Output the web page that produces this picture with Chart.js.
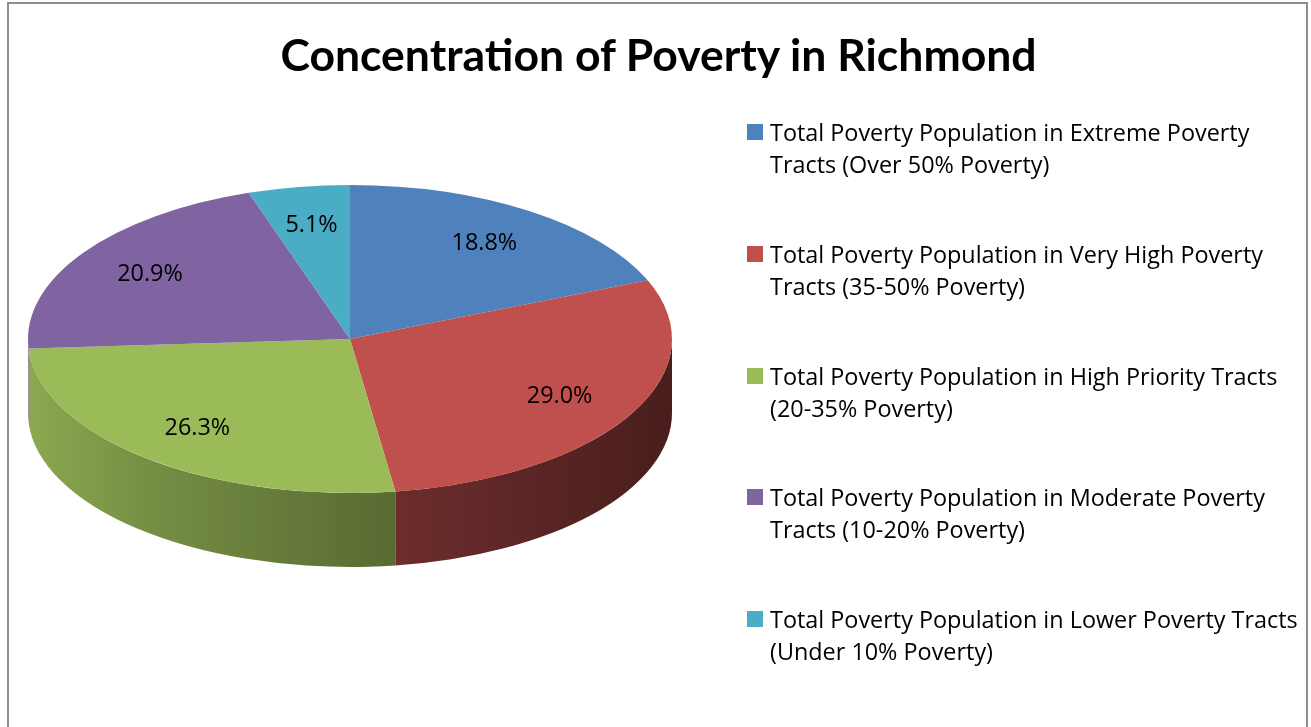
<!DOCTYPE html>
<html>
<head>
<meta charset="utf-8">
<title>Concentration of Poverty in Richmond</title>
<script src="https://cdn.jsdelivr.net/npm/chart.js@4.4.1/dist/chart.umd.min.js"></script>
<style>
    html, body { margin: 0; padding: 0; background: #fff; overflow: hidden; }
    #wrap { position: relative; width: 1311px; height: 727px; }
    #frame {
        position: absolute; left: 7px; top: 2px; width: 1297px; height: 740px;
        border: 2px solid #8e8e8e; box-sizing: content-box;
    }
    #pieChart { position: absolute; left: 0; top: 0; }
    #title {
        position: absolute; left: 0; top: 28px; width: 1317px; text-align: center;
        font: bold 44.5px Lato, sans-serif; line-height: 52px; color: #000;
    }
    #legend { position: absolute; left: 0; top: 0; margin: 0; padding: 0; list-style: none; }
    #legend li { position: absolute; left: 747px; }
    #legend .box { position: absolute; left: 0; top: 8px; width: 16px; height: 16px; }
    #legend .txt {
        position: absolute; left: 23px; top: 0; white-space: nowrap;
        font: 23.4px "Open Sans", sans-serif; line-height: 32px; color: #000;
    }
</style>
</head>
<body>
<div id="wrap">
    <div id="frame"></div>
    <canvas id="pieChart" width="1311" height="727"></canvas>
    <div id="title">Concentration of Poverty in Richmond</div>
    <ul id="legend"></ul>
</div>
<script>
// Slice names (two lines each, as they wrap in the legend)
const sliceLabels = [
    ['Total Poverty Population in Extreme Poverty', 'Tracts (Over 50% Poverty)'],
    ['Total Poverty Population in Very High Poverty', 'Tracts (35-50% Poverty)'],
    ['Total Poverty Population in High Priority Tracts', '(20-35% Poverty)'],
    ['Total Poverty Population in Moderate Poverty', 'Tracts (10-20% Poverty)'],
    ['Total Poverty Population in Lower Poverty Tracts', '(Under 10% Poverty)']
];
// Share of the poverty population, percent
const sliceValues = [18.8, 29.0, 26.3, 20.9, 5.1];
const sliceColors = ['#4F81BD', '#C0504D', '#9BBB59', '#8064A2', '#4BACC6'];

const TILT = 154 / 322;   // vertical squash of the pie top
const DEPTH = 74;         // thickness of the pie, px

function shade(hex, f) {
    const n = parseInt(hex.slice(1), 16);
    const r = Math.round(((n >> 16) & 255) * f);
    const g = Math.round(((n >> 8) & 255) * f);
    const b = Math.round((n & 255) * f);
    return 'rgb(' + r + ',' + g + ',' + b + ')';
}

// Parts of an arc that face the viewer (canvas angles 0..PI)
function frontSpans(s, e) {
    const out = [];
    for (let k = -1; k <= 1; k++) {
        const lo = Math.max(s, 2 * Math.PI * k);
        const hi = Math.min(e, Math.PI + 2 * Math.PI * k);
        if (hi > lo) out.push([lo, hi]);
    }
    return out;
}

const pie3d = {
    id: 'pie3d',
    beforeDatasetsDraw(chart) {
        const ctx = chart.ctx;
        const arcs = chart.getDatasetMeta(0).data;
        const cx = arcs[0].x, cy = arcs[0].y, r = arcs[0].outerRadius;
        const ry = r * TILT;

        // side walls, darker toward the right
        arcs.forEach(function (arc, i) {
            frontSpans(arc.startAngle, arc.endAngle).forEach(function (span) {
                const grad = ctx.createLinearGradient(cx - r, 0, cx + r, 0);
                [0, 0.2, 0.4, 0.6, 0.8, 1].forEach(function (t) {
                    grad.addColorStop(t, shade(sliceColors[i], 0.9 - 0.52 * Math.pow(t, 0.8)));
                });
                ctx.beginPath();
                ctx.ellipse(cx, cy, r, ry, 0, span[0], span[1]);
                ctx.ellipse(cx, cy + DEPTH, r, ry, 0, span[1], span[0], true);
                ctx.closePath();
                ctx.fillStyle = grad;
                ctx.fill();
            });
        });

        // squash the top face into an ellipse
        ctx.save();
        ctx.translate(cx, cy);
        ctx.scale(1, TILT);
        ctx.translate(-cx, -cy);
    },
    afterDatasetsDraw(chart) {
        const ctx = chart.ctx;
        ctx.restore();

        const arcs = chart.getDatasetMeta(0).data;
        ctx.save();
        ctx.font = '23.4px "Open Sans", sans-serif';
        ctx.fillStyle = '#000';
        ctx.textAlign = 'center';
        ctx.textBaseline = 'middle';
        arcs.forEach(function (arc, i) {
            const mid = (arc.startAngle + arc.endAngle) / 2;
            const x = arc.x + Math.cos(mid) * arc.outerRadius * 0.75;
            const y = arc.y + Math.sin(mid) * arc.outerRadius * TILT * 0.75;
            ctx.fillText(sliceValues[i].toFixed(1) + '%', x, y);
        });
        ctx.restore();
    }
};

new Chart(document.getElementById('pieChart'), {
    type: 'pie',
    data: {
        labels: sliceLabels,
        datasets: [{
            data: sliceValues,
            backgroundColor: sliceColors,
            borderWidth: 0,
            hoverOffset: 0,
            clip: false
        }]
    },
    options: {
        responsive: false,
        animation: false,
        events: [],
        rotation: 0,
        layout: {
            padding: { left: 28, top: 17, right: 639, bottom: 66 }
        },
        plugins: {
            legend: { display: false },
            title: { display: false },
            tooltip: { enabled: false }
        }
    },
    plugins: [pie3d]
});

// legend on the right
const legendEl = document.getElementById('legend');
sliceLabels.forEach(function (lines, i) {
    const li = document.createElement('li');
    li.style.top = (116 + 121.75 * i) + 'px';
    const box = document.createElement('span');
    box.className = 'box';
    box.style.background = sliceColors[i];
    const txt = document.createElement('span');
    txt.className = 'txt';
    txt.innerHTML = lines.join('<br>');
    li.appendChild(box);
    li.appendChild(txt);
    legendEl.appendChild(li);
});
</script>
</body>
</html>
